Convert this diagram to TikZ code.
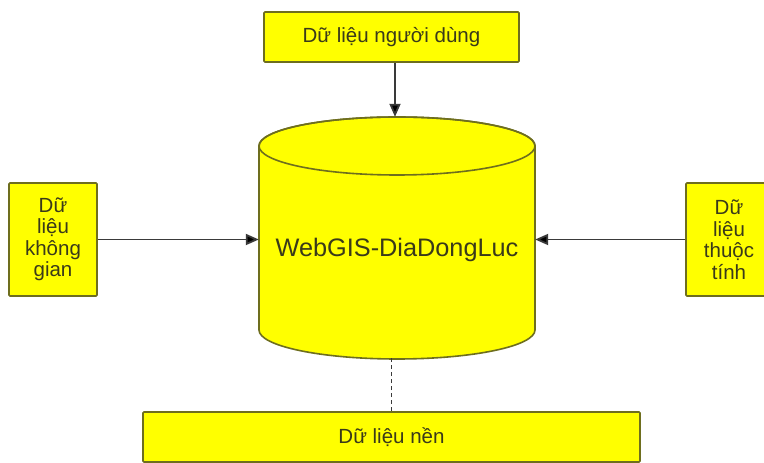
\documentclass[tikz,border=0pt]{standalone}
\usepackage{fontspec}
\setmainfont{Liberation Sans}
\usetikzlibrary{arrows.meta}

\definecolor{boxfill}{HTML}{FFFF00}
\definecolor{boxedge}{HTML}{6E6E1E}
\definecolor{labelink}{HTML}{3A3A1A}
\definecolor{wire}{HTML}{3A3A3A}

\tikzset{
  databox/.style={draw=boxedge, fill=boxfill, line width=1.6pt, rounded corners=1pt,
    text=labelink, align=center, inner sep=2pt,
    font=\fontsize{20.5}{21.5}\selectfont},
  flow/.style={draw=wire, line width=1.8pt, -{Triangle[length=13pt,width=11pt,fill=black]}},
  dashlink/.style={draw=wire, line width=1.8pt, dash pattern=on 4pt off 3pt},
  dbbody/.style={fill=boxfill, draw=boxedge, line width=1.6pt}
}

\begin{document}
\begin{tikzpicture}[x=1pt, y=1pt]
  \clip (0,0) rectangle (764,463);
  \fill[white] (0,0) rectangle (764,463);

  % source boxes
  \node[databox, minimum width=255pt, minimum height=50pt] (user) at (391.5,426) {Dữ liệu người dùng};
  \node[databox, minimum width=88pt, minimum height=113pt, text width=80pt] (spatial) at (53,223.5) {Dữ\\liệu\\không\\gian};
  \node[databox, minimum width=86pt, minimum height=113pt, text width=80pt] (attrib) at (729,223.5) {Dữ\\liệu\\thuộc\\tính};
  \node[databox, minimum width=497pt, minimum height=50pt] (base) at (391.5,26) {Dữ liệu nền};

  % database cylinder
  \path[dbbody] (259,317) -- (259,133)
    arc[start angle=180, end angle=360, x radius=138pt, y radius=29pt]
    -- (535,317)
    arc[start angle=0, end angle=180, x radius=138pt, y radius=29pt] -- cycle;
  \draw[boxedge, line width=1.6pt] (397,317) ellipse [x radius=138pt, y radius=29pt];
  \node[minimum width=276pt, minimum height=241pt, inner sep=0pt] (db) at (397,225.5) {};
  \node[text=labelink, font=\fontsize{25.3}{30}\selectfont] (dblabel) at (397,213) {WebGIS-DiaDongLuc};

  % connectors
  \draw[flow] ([xshift=3.5pt]user.south) -- ([xshift=-2pt]db.north);
  \draw[flow] (spatial.east) -- (spatial.east -| db.west);
  \draw[flow] (attrib.west) -- (attrib.west -| db.east);
  \draw[dashlink] (base.north) -- ([yshift=0.5pt]base.north |- db.south);
\end{tikzpicture}
\end{document}
